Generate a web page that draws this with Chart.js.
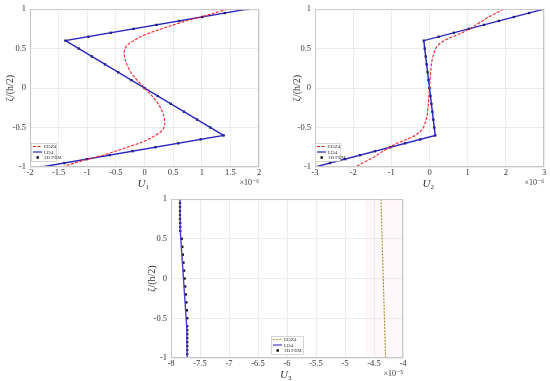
<!DOCTYPE html>
<html>
<head>
<meta charset="utf-8">
<script src="https://cdn.jsdelivr.net/npm/chart.js@4/dist/chart.umd.min.js"></script>
<style>
  body { margin: 0; width: 550px; height: 381px; background: #fff; position: relative; overflow: hidden; }
  canvas { position: absolute; }
</style>
</head>
<body>
<canvas id="c1" width="275" height="190" style="left:0;top:0"></canvas>
<canvas id="c2" width="275" height="190" style="left:275px;top:0"></canvas>
<canvas id="c3" width="280" height="191" style="left:140px;top:190px"></canvas>
<script>
// thickness coordinate zeta/(h/2)
const zetaLD4 = [1, 0.6, -0.6, -1];
const zetaFEM = [1, 0.95, 0.9, 0.85, 0.8, 0.75, 0.7, 0.65, 0.6,
                 0.5, 0.4, 0.3, 0.2, 0.1, 0, -0.1, -0.2, -0.3, -0.4, -0.5,
                 -0.6, -0.65, -0.7, -0.75, -0.8, -0.85, -0.9, -0.95, -1];
const zetaEDZ = [1, 0.95, 0.9, 0.85, 0.8, 0.75, 0.7, 0.65, 0.6, 0.55, 0.5, 0.45, 0.4, 0.35, 0.3, 0.25, 0.2, 0.15, 0.1, 0.05, 0,
                 -0.05, -0.1, -0.15, -0.2, -0.25, -0.3, -0.35, -0.4, -0.45, -0.5, -0.55, -0.6, -0.65, -0.7, -0.75, -0.8, -0.85, -0.9, -0.95, -1];
const zetaEDZ3 = [1, 0.5, 0, -0.5, -1];

// U1 (x1e-6)
const u1LD4 = [1.8, -1.38, 1.38, -1.8];
const u1FEM = [1.8, 1.4, 1.01, 0.61, 0.21, -0.19, -0.59, -0.98, -1.38,
               -1.15, -0.92, -0.69, -0.46, -0.23, 0, 0.23, 0.46, 0.69, 0.92, 1.15,
               1.38, 0.98, 0.59, 0.19, -0.21, -0.61, -1.01, -1.4, -1.8];
const u1EDZ = [1.45, 1.22, 0.98, 0.72, 0.51, 0.3, 0.1, -0.07, -0.19, -0.29, -0.34, -0.355, -0.35, -0.335, -0.31, -0.28, -0.24, -0.19, -0.13, -0.065, 0,
               0.065, 0.13, 0.19, 0.24, 0.28, 0.31, 0.335, 0.35, 0.355, 0.34, 0.29, 0.19, 0.07, -0.1, -0.3, -0.51, -0.72, -0.98, -1.22, -1.45];

// U2 (x1e-6)
const u2LD4 = [3, -0.15, 0.15, -3];
const u2FEM = [3, 2.61, 2.21, 1.82, 1.43, 1.03, 0.64, 0.24, -0.15,
               -0.125, -0.1, -0.075, -0.05, -0.025, 0, 0.025, 0.05, 0.075, 0.1, 0.125,
               0.15, -0.24, -0.64, -1.03, -1.43, -1.82, -2.21, -2.61, -3];
const u2EDZ = [1.94, 1.75, 1.55, 1.38, 1.22, 1.05, 0.85, 0.6, 0.38, 0.24, 0.16, 0.12, 0.09, 0.065, 0.05, 0.04, 0.03, 0.022, 0.015, 0.008, 0,
               -0.008, -0.015, -0.022, -0.03, -0.04, -0.05, -0.065, -0.09, -0.12, -0.16, -0.24, -0.38, -0.6, -0.85, -1.05, -1.22, -1.38, -1.55, -1.75, -1.94];

// U3 (x1e-5)
const u3LD4 = [-7.845, -7.84, -7.73, -7.72];
const u3FEM = [-7.845, -7.845, -7.845, -7.845, -7.845, -7.845, -7.84, -7.84, -7.84,
               -7.815, -7.805, -7.795, -7.785, -7.775, -7.765, -7.755, -7.745, -7.735, -7.725, -7.72,
               -7.72, -7.72, -7.72, -7.72, -7.72, -7.72, -7.72, -7.72, -7.72];
const u3EDZ = [-4.38, -4.36, -4.34, -4.32, -4.30];

const legendLabels = ['EDZ4', 'LD4', '3D FEM'];
const yTitle = 'ζ/(h/2)';

const serif = "'Liberation Serif', 'DejaVu Serif', serif";

function pts(xs, ys) {
    return xs.map((x, i) => ({ x: x, y: ys[i] }));
}

const extras = {
    id: 'extras',
    beforeDatasetsDraw(chart, args, opts) {
        if (!opts.band) return;
        const { ctx, chartArea, scales } = chart;
        const x0 = scales.x.getPixelForValue(opts.band[0]);
        const x1 = scales.x.getPixelForValue(opts.band[1]);
        ctx.save();
        ctx.fillStyle = 'rgba(250, 215, 230, 0.18)';
        ctx.fillRect(x0, chartArea.top, x1 - x0, chartArea.bottom - chartArea.top);
        ctx.restore();
    },
    afterDraw(chart, args, opts) {
        const { ctx, chartArea } = chart;
        ctx.save();
        // frame
        ctx.strokeStyle = '#c6c6c6';
        ctx.lineWidth = 1;
        ctx.strokeRect(chartArea.left + 0.5, chartArea.top + 0.5,
                       chartArea.right - chartArea.left - 1, chartArea.bottom - chartArea.top - 1);
        // x title: italic U with subscript index
        const cx = (chartArea.left + chartArea.right) / 2;
        ctx.fillStyle = '#333';
        ctx.textBaseline = 'alphabetic';
        ctx.textAlign = 'right';
        ctx.font = 'italic 11px ' + serif;
        ctx.fillText('U', cx + 1, chartArea.bottom + 19.5);
        ctx.textAlign = 'left';
        ctx.font = '7px ' + serif;
        ctx.fillText(opts.index, cx + 1, chartArea.bottom + 22);
        // exponent
        ctx.font = '8px ' + serif;
        ctx.textAlign = 'right';
        ctx.textBaseline = 'middle';
        ctx.fillText(opts.exponent, chartArea.right, chartArea.bottom + 16);
        // legend
        const bx = chartArea.left + opts.legendX;
        const by = chartArea.bottom - opts.legendY;
        const bw = opts.legendW, bh = 18;
        ctx.fillStyle = '#fff';
        ctx.fillRect(bx, by, bw, bh);
        ctx.strokeStyle = '#bbb';
        ctx.lineWidth = 0.6;
        ctx.strokeRect(bx + 0.5, by + 0.5, bw, bh);
        ctx.font = '5px ' + serif;
        ctx.textAlign = 'left';
        chart.data.datasets.forEach((ds, i) => {
            const ly = by + 3.5 + i * 5.5;
            if (ds.showLine) {
                ctx.strokeStyle = ds.borderColor;
                ctx.lineWidth = 1.2;
                ctx.setLineDash(ds.borderDash || []);
                ctx.beginPath();
                ctx.moveTo(bx + 2, ly);
                ctx.lineTo(bx + 11, ly);
                ctx.stroke();
                ctx.setLineDash([]);
            } else {
                ctx.fillStyle = '#000';
                ctx.fillRect(bx + 5.5, ly - 1.2, 2.4, 2.4);
            }
            ctx.fillStyle = '#333';
            ctx.fillText(ds.label, bx + 13, ly + 0.3);
        });
        ctx.restore();
    }
};

function makeChart(id, cfg) {
    return new Chart(document.getElementById(id), {
        type: 'scatter',
        data: {
            datasets: [
                {
                    label: legendLabels[0],
                    data: pts(cfg.edz, cfg.zEdz),
                    showLine: true,
                    borderColor: cfg.edzColor,
                    borderDash: cfg.edzDash,
                    borderWidth: 1.1,
                    pointRadius: 0,
                    tension: 0.3
                },
                {
                    label: legendLabels[1],
                    data: pts(cfg.ld4, zetaLD4),
                    showLine: true,
                    borderColor: cfg.ld4Color,
                    borderWidth: 1.4,
                    pointRadius: 0,
                    tension: 0
                },
                {
                    label: legendLabels[2],
                    data: pts(cfg.fem, zetaFEM),
                    showLine: false,
                    pointStyle: 'rect',
                    pointRadius: 1.6,
                    backgroundColor: '#000',
                    borderColor: '#000',
                    borderWidth: 0
                }
            ]
        },
        options: {
            responsive: false,
            animation: false,
            layout: { padding: { top: cfg.padTop, right: cfg.padRight, left: 0, bottom: 0 } },
            plugins: {
                legend: { display: false },
                tooltip: { enabled: false },
                extras: {
                    exponent: cfg.exponent, index: cfg.index,
                    legendX: cfg.legendX, legendY: cfg.legendY, legendW: cfg.legendW,
                    band: cfg.band
                }
            },
            scales: {
                x: {
                    type: 'linear',
                    min: cfg.xMin, max: cfg.xMax,
                    afterFit: s => { s.height = cfg.xHeight; },
                    ticks: {
                        stepSize: cfg.xStep,
                        font: { family: serif, size: 8.5 },
                        color: '#333',
                        padding: 1,
                        maxRotation: 0,
                        callback: v => String(Math.round(v * 10) / 10)
                    },
                    grid: { color: '#ececec', drawTicks: false },
                    border: { display: false },
                    title: { display: false }
                },
                y: {
                    type: 'linear',
                    min: -1, max: 1,
                    afterFit: s => { s.width = cfg.yWidth; },
                    ticks: {
                        stepSize: 0.5,
                        font: { family: serif, size: 8.5 },
                        color: '#333',
                        padding: 4,
                        callback: v => String(Math.round(v * 10) / 10)
                    },
                    grid: { color: '#ececec', drawTicks: false },
                    border: { display: false },
                    title: {
                        display: true,
                        text: yTitle,
                        font: { family: serif, size: 10 },
                        color: '#333',
                        padding: { top: cfg.yTitlePad, bottom: 0 }
                    }
                }
            }
        },
        plugins: [extras]
    });
}

makeChart('c1', {
    edz: u1EDZ, zEdz: zetaEDZ, ld4: u1LD4, fem: u1FEM,
    edzColor: '#f0202a', edzDash: [3, 1.5], ld4Color: '#2424c0',
    xMin: -2, xMax: 2, xStep: 0.5, index: '1', exponent: '×10⁻⁶',
    padTop: 7, padRight: 16, yWidth: 30, xHeight: 23, yTitlePad: 4,
    legendX: 1, legendY: 24, legendW: 25
});

makeChart('c2', {
    edz: u2EDZ, zEdz: zetaEDZ, ld4: u2LD4, fem: u2FEM,
    edzColor: '#f0202a', edzDash: [3, 1.5], ld4Color: '#2424c0',
    xMin: -3, xMax: 3, xStep: 1, index: '2', exponent: '×10⁻⁶',
    padTop: 7, padRight: 6, yWidth: 40, xHeight: 23, yTitlePad: 16,
    legendX: 0, legendY: 24, legendW: 25
});

makeChart('c3', {
    edz: u3EDZ, zEdz: zetaEDZ3, ld4: u3LD4, fem: u3FEM,
    edzColor: '#a8902c', edzDash: [2, 1.2], ld4Color: '#4a3cc8',
    xMin: -8, xMax: -4, xStep: 0.5, index: '3', exponent: '×10⁻⁵',
    padTop: 9, padRight: 17, yWidth: 31, xHeight: 23, yTitlePad: 6,
    legendX: 100, legendY: 22, legendW: 32,
    band: [-4.65, -4]
});
</script>
</body>
</html>
